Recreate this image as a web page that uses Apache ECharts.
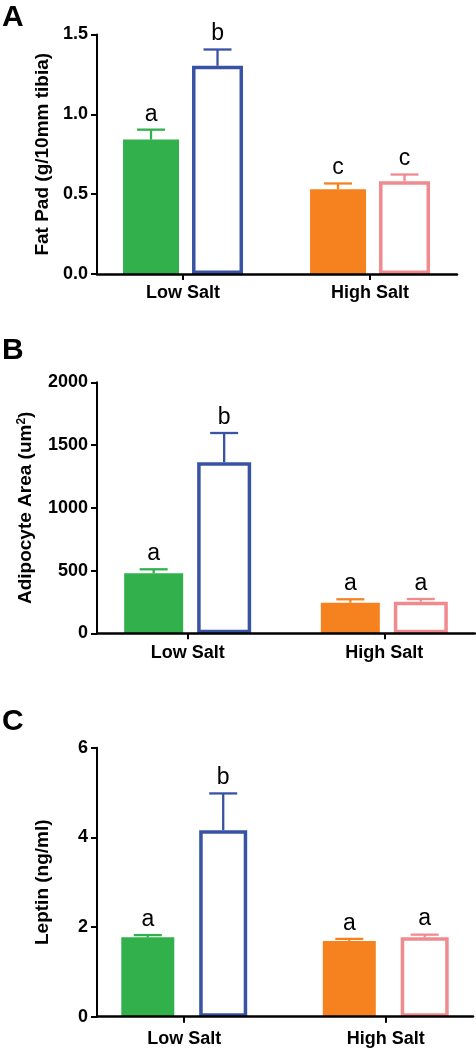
<!DOCTYPE html>
<html>
<head>
<meta charset="utf-8">
<script src="https://cdn.jsdelivr.net/npm/echarts@6/dist/echarts.min.js"></script>
<style>
html,body{margin:0;padding:0;background:#fff;}
#chart{width:476px;height:1050px;}
</style>
</head>
<body>
<div id="chart"></div>
<script>
// ---------------- data ----------------
const categories = ['Low Salt', 'High Salt'];
const panelLetters = ['A', 'B', 'C'];

// Panel A: Fat pad
const fatPadFilled = [0.842, 0.531];
const fatPadFilledSem = [0.062, 0.036];
const fatPadOpen = [1.304, 0.581];
const fatPadOpenSem = [0.102, 0.042];
const fatPadFilledLetters = ['a', 'c'];
const fatPadOpenLetters = ['b', 'c'];
const fatPadTicks = [0, 0.5, 1.0, 1.5];

// Panel B: Adipocyte area
const areaFilled = [478, 244];
const areaFilledSem = [32, 27];
const areaOpen = [1362, 252];
const areaOpenSem = [234, 21];
const areaFilledLetters = ['a', 'a'];
const areaOpenLetters = ['b', 'a'];
const areaTicks = [0, 500, 1000, 1500, 2000];

// Panel C: Leptin
const leptinFilled = [1.77, 1.69];
const leptinFilledSem = [0.05, 0.045];
const leptinOpen = [4.16, 1.77];
const leptinOpenSem = [0.82, 0.06];
const leptinFilledLetters = ['a', 'a'];
const leptinOpenLetters = ['b', 'a'];
const leptinTicks = [0, 2, 4, 6];

// ---------------- styles ----------------
const FONT = '"Liberation Sans", Arial, Helvetica, sans-serif';
const filledColors = ['#31B04B', '#F5821F'];
const openColors = ['#3953A4', '#F08A8F'];

const panels = [
  {
    top: 34.5, height: 239.5, width: 360, xmin: 0.54, xmax: 2.465,
    ticks: fatPadTicks, fmt: v => v.toFixed(1),
    name: 'Fat Pad (g/10mm tibia)', nameGap: 43,
    filled: fatPadFilled, filledSem: fatPadFilledSem, open: fatPadOpen, openSem: fatPadOpenSem,
    fL: fatPadFilledLetters, oL: fatPadOpenLetters,
    w1: 56, w2: 51, gap: 0.232, letterY: 17.5, labelMargin: 10
  },
  {
    top: 382.3, height: 251, width: 378, xmin: 0.539, xmax: 2.461,
    ticks: areaTicks, fmt: v => String(v),
    name: 'Adipocyte Area (um{sup|2})', nameGap: 61,
    filled: areaFilled, filledSem: areaFilledSem, open: areaOpen, openSem: areaOpenSem,
    fL: areaFilledLetters, oL: areaOpenLetters,
    w1: 59, w2: 54, gap: 0.237, letterY: 351, labelMargin: 11
  },
  {
    top: 747.7, height: 269, width: 376, xmin: 0.567, xmax: 2.433,
    ticks: leptinTicks, fmt: v => String(v),
    name: 'Leptin (ng/ml)', nameGap: 45,
    filled: leptinFilled, filledSem: leptinFilledSem, open: leptinOpen, openSem: leptinOpenSem,
    fL: leptinFilledLetters, oL: leptinOpenLetters,
    w1: 53, w2: 48, gap: 0.47, letterY: 721.5, labelMargin: 13
  }
];

const grids = [], xAxes = [], yAxes = [], series = [], graphics = [];

function errSeries(i, means, sems, letters, colors, offset) {
  return {
    type: 'custom',
    xAxisIndex: i, yAxisIndex: i,
    clip: false, silent: true, z: 5,
    data: means.map((m, k) => [k + 1, m, sems[k]]),
    renderItem: function (params, api) {
      const k = params.dataIndex;
      const base = api.coord([api.value(0), api.value(1)]);
      const top = api.coord([api.value(0), api.value(1) + api.value(2)]);
      const x = base[0] + offset;
      const col = colors[k];
      return {
        type: 'group',
        children: [
          { type: 'line', shape: { x1: x, y1: base[1], x2: x, y2: top[1] }, style: { stroke: col, lineWidth: 2.3 } },
          { type: 'line', shape: { x1: x - 14, y1: top[1], x2: x + 14, y2: top[1] }, style: { stroke: col, lineWidth: 2.3 } },
          { type: 'text', x: x, y: top[1] - 4, style: { text: letters[k], fill: '#000', fontSize: 23, fontFamily: FONT, align: 'center', verticalAlign: 'bottom' } }
        ]
      };
    }
  };
}

panels.forEach((p, i) => {
  const ymax = p.ticks[p.ticks.length - 1];
  grids.push({ left: 97, top: p.top, width: p.width, height: p.height });
  xAxes.push({
    type: 'value', gridIndex: i, min: p.xmin, max: p.xmax, z: 6,
    splitLine: { show: false },
    axisLine: { show: true, onZero: false, lineStyle: { color: '#000', width: 2.5 } },
    axisTick: { show: true, customValues: [1, 2], length: 6, lineStyle: { color: '#000', width: 2 } },
    axisLabel: {
      customValues: [1, 2], formatter: v => categories[Math.round(v) - 1] || '',
      color: '#000', fontSize: 18, fontWeight: 'bold', fontFamily: FONT, margin: p.labelMargin
    }
  });
  yAxes.push({
    type: 'value', gridIndex: i, min: 0, max: ymax, interval: p.ticks[1] - p.ticks[0], z: 6,
    splitLine: { show: false },
    axisLine: { show: true, onZero: false, lineStyle: { color: '#000', width: 2 } },
    axisTick: { show: true, length: 6, lineStyle: { color: '#000', width: 2 } },
    axisLabel: { formatter: p.fmt, color: '#000', fontSize: 18, fontWeight: 'bold', fontFamily: FONT, margin: 9 },
    name: p.name, nameLocation: 'middle', nameGap: p.nameGap, nameRotate: 90,
    nameTextStyle: {
      color: '#000', fontSize: 19, fontWeight: 'bold', fontFamily: FONT,
      rich: { sup: { fontSize: 12, fontWeight: 'bold', fontFamily: FONT, color: '#000', verticalAlign: 'top', padding: [0, 0, 8, 0] } }
    }
  });
  series.push({
    type: 'bar', xAxisIndex: i, yAxisIndex: i, barWidth: p.w1, barGap: (p.gap * 100) + '%',
    silent: true,
    data: p.filled.map((v, k) => ({ value: [k + 1, v], itemStyle: { color: filledColors[k] } }))
  });
  series.push({
    type: 'bar', xAxisIndex: i, yAxisIndex: i, barWidth: p.w2, barGap: (p.gap * 100) + '%',
    silent: true,
    data: p.open.map((v, k) => ({ value: [k + 1, v], itemStyle: { color: '#fff', borderColor: openColors[k], borderWidth: 3.5 } }))
  });
  const total = p.w1 * (1 + p.gap) + p.w2;
  const off1 = -total / 2 + p.w1 / 2;
  const off2 = -total / 2 + p.w1 * (1 + p.gap) + p.w2 / 2;
  series.push(errSeries(i, p.filled, p.filledSem, p.fL, filledColors, off1));
  series.push(errSeries(i, p.open, p.openSem, p.oL, openColors, off2));
  graphics.push({
    type: 'text', left: 2, top: p.letterY - 15,
    style: { text: panelLetters[i], fill: '#000', fontSize: 30, fontWeight: 'bold', fontFamily: FONT }
  });
});

const chart = echarts.init(document.getElementById('chart'), null, { renderer: 'canvas' });
chart.setOption({
  animation: false,
  backgroundColor: '#fff',
  grid: grids,
  xAxis: xAxes,
  yAxis: yAxes,
  series: series,
  graphic: graphics
});
</script>
</body>
</html>
